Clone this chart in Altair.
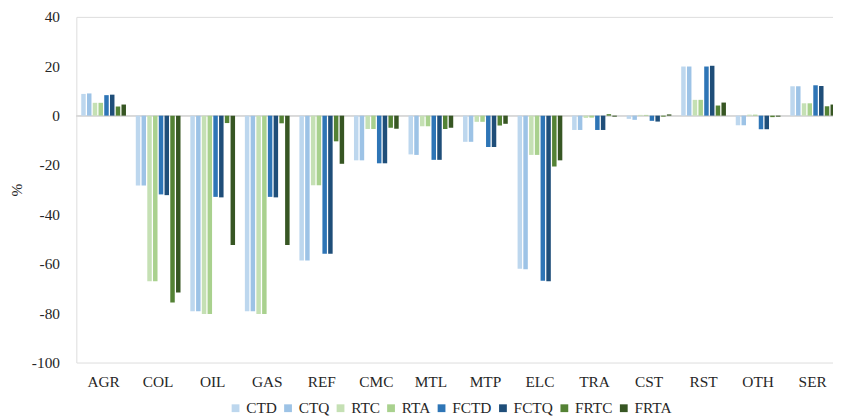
import altair as alt
import pandas as pd

categories = ["AGR", "COL", "OIL", "GAS", "REF", "CMC", "MTL", "MTP", "ELC", "TRA", "CST", "RST", "OTH", "SER"]
series = ["CTD", "CTQ", "RTC", "RTA", "FCTD", "FCTQ", "FRTC", "FRTA"]
colors = ["#BDD7EE", "#9DC3E6", "#C5E0B4", "#A9D18E", "#2E75B6", "#1F4E79", "#548235", "#375623"]

CTD = [8.8, -28.3, -79.2, -79.2, -58.7, -18.1, -15.7, -10.6, -62.0, -5.8, -1.3, 19.9, -3.9, 11.9]
CTQ = [9.0, -28.3, -79.2, -79.2, -58.7, -18.1, -15.9, -10.6, -62.2, -5.8, -1.7, 19.9, -3.9, 11.9]
RTC = [5.2, -67.1, -80.3, -80.3, -28.2, -5.4, -4.3, -2.5, -15.9, -0.9, 0.3, 6.4, 0.4, 5.0]
RTA = [5.2, -67.1, -80.3, -80.3, -28.2, -5.4, -4.3, -2.5, -15.9, -0.8, 0.3, 6.4, 0.4, 5.0]
FCTD = [8.3, -31.9, -32.9, -32.9, -55.9, -19.3, -17.9, -12.7, -66.9, -5.8, -2.1, 19.9, -5.5, 12.3]
FCTQ = [8.5, -32.2, -33.1, -33.1, -55.9, -19.3, -17.9, -12.7, -67.1, -5.8, -2.4, 20.2, -5.5, 12.0]
FRTC = [3.7, -75.7, -3.0, -3.1, -10.4, -4.9, -5.4, -4.0, -20.6, 0.6, -0.4, 4.1, -0.6, 3.8]
FRTA = [4.5, -71.6, -52.4, -52.4, -19.5, -5.3, -4.9, -3.3, -18.1, -0.4, 0.5, 5.3, -0.4, 4.5]

values = {"CTD": CTD, "CTQ": CTQ, "RTC": RTC, "RTA": RTA,
          "FCTD": FCTD, "FCTQ": FCTQ, "FRTC": FRTC, "FRTA": FRTA}

rows = []
for s in series:
    for c, v in zip(categories, values[s]):
        rows.append({"cat": c, "series": s, "value": v})
df = pd.DataFrame(rows)

FONT = "Tinos, Nimbus Roman, FreeSerif, Noto Serif, DejaVu Serif"
TXT = "#262626"
FS = 15.5

zero = alt.Chart(df).mark_rule(color="#D9D9D9", strokeWidth=1.2).encode(
    y=alt.datum(0)
)

bars = alt.Chart(df).mark_bar().encode(
    x=alt.X("cat:N", sort=categories, title=None,
            scale=alt.Scale(range=[0, 771], paddingInner=0.18, paddingOuter=0.09),
            axis=alt.Axis(orient="bottom", domain=False, ticks=False, labelAngle=0,
                          labelPadding=12, labelFontSize=FS,
                          labelColor=TXT, offset=0)),
    xOffset=alt.XOffset("series:N", sort=series,
                        scale=alt.Scale(paddingInner=0.22, paddingOuter=0)),
    y=alt.Y("value:Q", title="%",
            scale=alt.Scale(domain=[-100, 40], nice=False, zero=False),
            axis=alt.Axis(values=[-100, -80, -60, -40, -20, 0, 20, 40],
                          labelExpr="datum.value < 0 ? '-' + abs(datum.value) : '' + datum.value",
                          domain=False, ticks=False, grid=False,
                          labelPadding=17, labelFontSize=FS,
                          labelColor=TXT, titleFontSize=FS,
                          titleFontWeight="normal", titleColor=TXT,
                          titleAngle=270, titleX=-60, titleY=174.5,
                          titleBaseline="middle", titleAlign="center")),
    color=alt.Color("series:N", sort=series,
                    scale=alt.Scale(domain=series, range=colors),
                    legend=alt.Legend(title=None, orient="none", direction="horizontal",
                                      legendX=153, legendY=387,
                                      symbolType="square", symbolSize=62,
                                      symbolStrokeWidth=0,
                                      labelFontSize=FS, labelColor=TXT,
                                      labelOffset=3, columnPadding=3)),
)

chart = alt.layer(zero, bars).properties(
    width=764, height=349,
    autosize=alt.AutoSizeParams(type="none"),
    padding={"left": 69, "top": 7, "right": 0, "bottom": 52},
).configure_view(stroke=None).configure(background="white", font=FONT
).configure_axis(labelFont=FONT, titleFont=FONT).configure_legend(labelFont=FONT)

chart.save("out.html", embed_options={"renderer": "svg", "actions": False})
